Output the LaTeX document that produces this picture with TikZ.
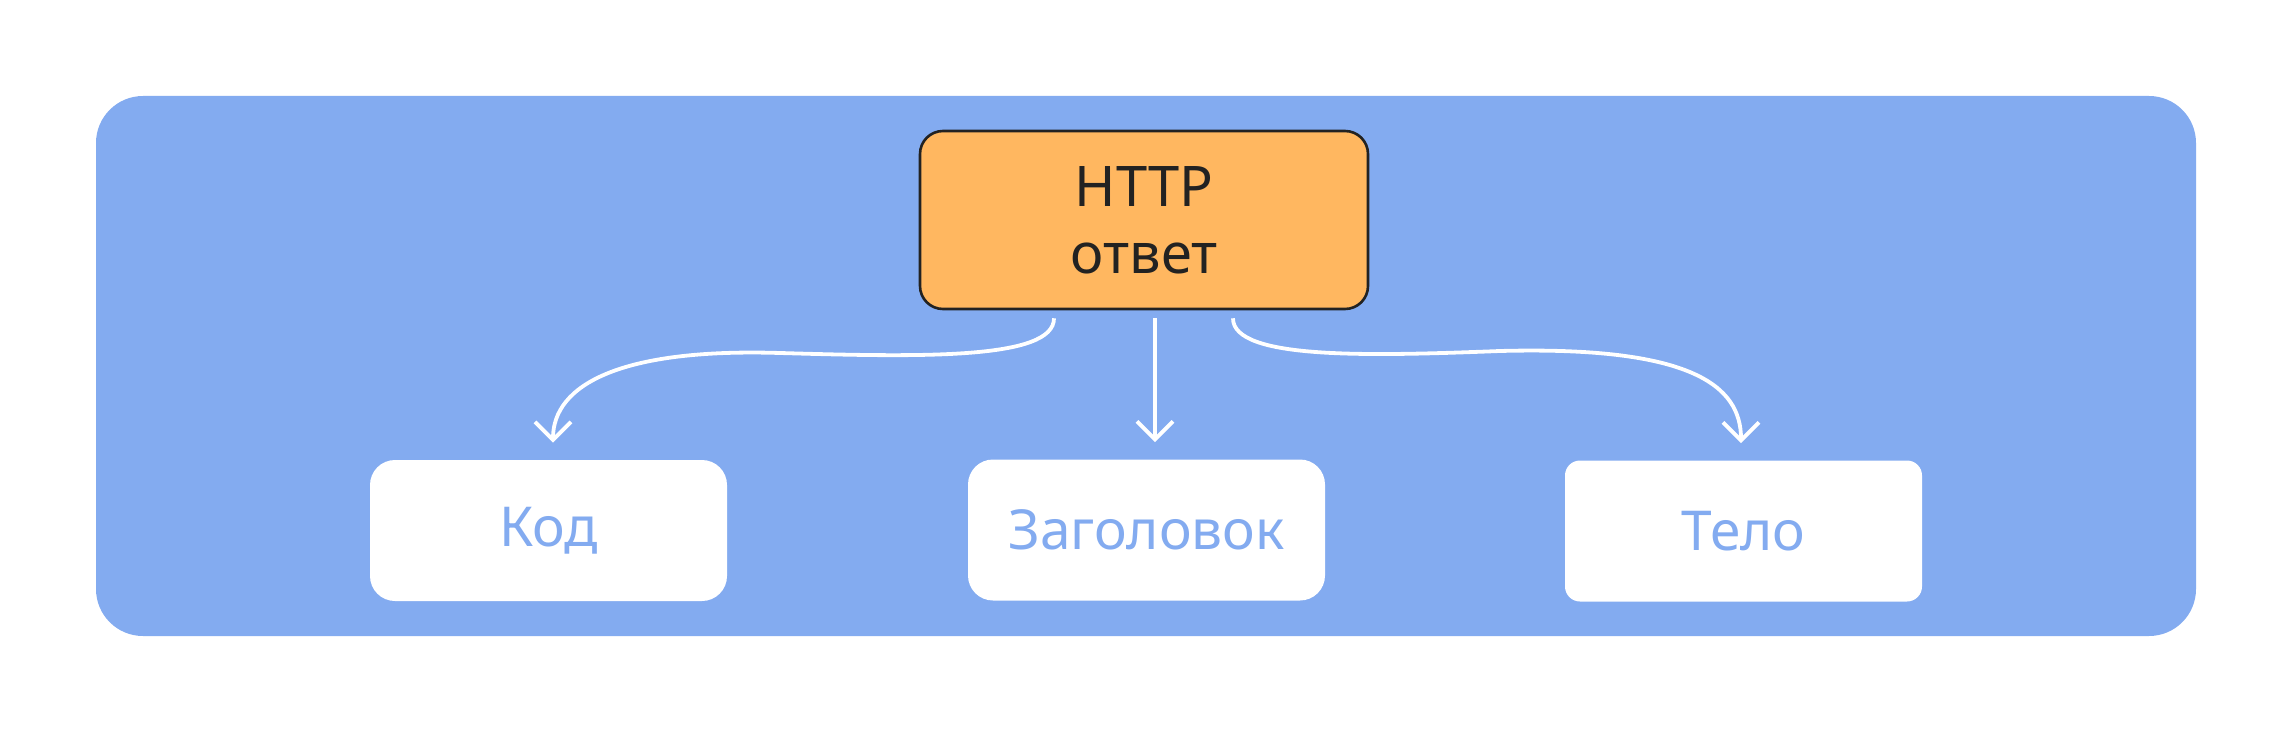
\documentclass[tikz,border=0pt]{standalone}
\usepackage{fontspec}
\setmainfont{Noto Sans}
\usetikzlibrary{arrows.meta}
\definecolor{bgblue}{RGB}{131,171,240}
\definecolor{orng}{RGB}{255,183,96}
\definecolor{dark}{RGB}{34,34,34}
\begin{document}
\begin{tikzpicture}[x=0.5pt,y=-0.5pt,
 resp/.style={draw=dark,line width=1.3pt,fill=orng,rounded corners=11.5pt,minimum width=224pt,minimum height=89pt,inner sep=0pt,align=center,font=\fontsize{28}{33.5}\selectfont,text=dark},
 part/.style={fill=white,rounded corners=12.5pt,minimum width=178.5pt,minimum height=70.5pt,inner sep=0pt,font=\fontsize{27.5}{31}\selectfont,text=bgblue},
 link/.style={draw=white,line width=1.9pt,-{Straight Barb[length=9pt,width=18pt]}}]
\useasboundingbox (0,0) rectangle (2293,733);
\fill[bgblue,rounded corners=23.5pt] (96,96) rectangle (2196,636);
\node[resp] (resp) at (1144,220) {HTTP\\ответ};
\node[part] (kod) at (548.5,530.5) {Код};
\node[part] (zag) at (1146.5,530) {Заголовок};
\node[part,rounded corners=7.5pt] (telo) at (1743.5,531) {Тело};
\draw[link] ([shift={(11,8)}]resp.south) -- ([shift={(8.5,-17)}]zag.north);
\draw[link] ([shift={(-90,8)}]resp.south) .. controls (1054,360) and (920,357) .. (780,353) .. controls (620,348) and (553,385) .. ([shift={(4.5,-17)}]kod.north);
\draw[link] ([shift={(89,8)}]resp.south) .. controls (1233,360) and (1370,356) .. (1500,351) .. controls (1690,346) and (1741,385) .. ([shift={(-2.5,-17)}]telo.north);
\end{tikzpicture}
\end{document}
